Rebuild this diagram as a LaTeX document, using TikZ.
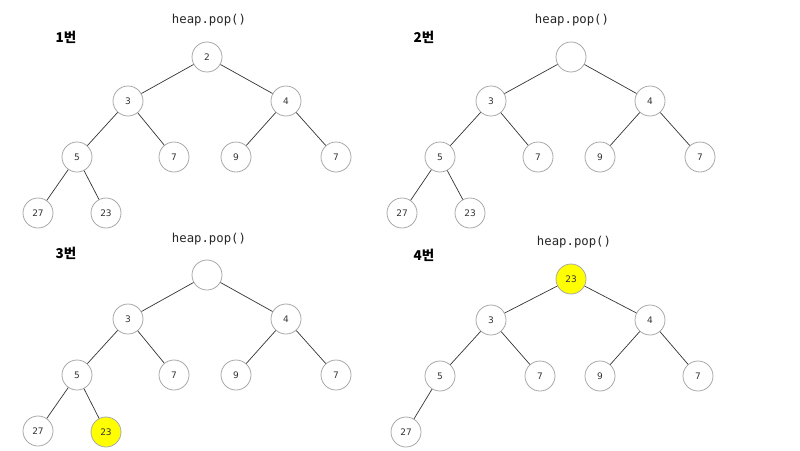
\documentclass[tikz,border=0pt]{standalone}
\usepackage{fontspec}
\setmainfont{DejaVu Sans}
\newfontfamily\krfont{Noto Sans CJK KR}
\newfontfamily\monofont{DejaVu Sans Mono}
\definecolor{ringgray}{HTML}{A8A8A8}
\definecolor{edgegray}{HTML}{333333}
\definecolor{hiyellow}{HTML}{FFFF00}
\begin{document}
\begin{tikzpicture}[x=1pt,y=-1pt,
  hnode/.style={circle,draw=ringgray,line width=0.8pt,minimum size=30pt,inner sep=0pt,font=\fontsize{9}{10}\selectfont,text=black!80,fill=white},
  hilite/.style={hnode,fill=hiyellow},
  edge/.style={draw=edgegray,line width=0.7pt},
  title/.style={font=\monofont\fontsize{12.3}{14}\selectfont,text=black!85},
  stepnum/.style={font=\krfont\bfseries\fontsize{13.5}{15}\selectfont,text=black}]
\useasboundingbox (0,0) rectangle (800,450);
% Panel 1
\node[title] (t1) at (209,20) {heap.pop()};
\node[stepnum] (s1) at (66,37) {1번};
\node[hnode] (a1) at (207,57) {2};
\node[hnode] (a2) at (128,101) {3};
\node[hnode] (a3) at (286,101) {4};
\node[hnode] (a4) at (77,157) {5};
\node[hnode] (a5) at (174,157) {7};
\node[hnode] (a6) at (236,157) {9};
\node[hnode] (a7) at (336,157) {7};
\node[hnode] (a8) at (38,213) {27};
\node[hnode] (a9) at (106,213) {23};
\draw[edge] (a1)--(a2) (a1)--(a3) (a2)--(a4) (a2)--(a5) (a3)--(a6) (a3)--(a7) (a4)--(a8) (a4)--(a9);
% Panel 2
\node[title] (t2) at (572,20) {heap.pop()};
\node[stepnum] (s2) at (424,37) {2번};
\node[hnode] (b1) at (571,57) {};
\node[hnode] (b2) at (491,101) {3};
\node[hnode] (b3) at (650,101) {4};
\node[hnode] (b4) at (440,157) {5};
\node[hnode] (b5) at (538,157) {7};
\node[hnode] (b6) at (600,157) {9};
\node[hnode] (b7) at (700,157) {7};
\node[hnode] (b8) at (402,213) {27};
\node[hnode] (b9) at (470,213) {23};
\draw[edge] (b1)--(b2) (b1)--(b3) (b2)--(b4) (b2)--(b5) (b3)--(b6) (b3)--(b7) (b4)--(b8) (b4)--(b9);
% Panel 3
\node[title] (t3) at (209,239) {heap.pop()};
\node[stepnum] (s3) at (66,253) {3번};
\node[hnode] (c1) at (207,275) {};
\node[hnode] (c2) at (128,319) {3};
\node[hnode] (c3) at (286,319) {4};
\node[hnode] (c4) at (77,375) {5};
\node[hnode] (c5) at (174,375) {7};
\node[hnode] (c6) at (236,375) {9};
\node[hnode] (c7) at (336,375) {7};
\node[hnode] (c8) at (38,431) {27};
\node[hilite] (c9) at (106,432) {23};
\draw[edge] (c1)--(c2) (c1)--(c3) (c2)--(c4) (c2)--(c5) (c3)--(c6) (c3)--(c7) (c4)--(c8) (c4)--(c9);
% Panel 4
\node[title] (t4) at (574,242) {heap.pop()};
\node[stepnum] (s4) at (424,255) {4번};
\node[hilite] (d1) at (571,279) {23};
\node[hnode] (d2) at (491,320) {3};
\node[hnode] (d3) at (650,320) {4};
\node[hnode] (d4) at (440,376) {5};
\node[hnode] (d5) at (540,376) {7};
\node[hnode] (d6) at (600,376) {9};
\node[hnode] (d7) at (698,376) {7};
\node[hnode] (d8) at (406,432) {27};
\draw[edge] (d1)--(d2) (d1)--(d3) (d2)--(d4) (d2)--(d5) (d3)--(d6) (d3)--(d7) (d4)--(d8);
\end{tikzpicture}
\end{document}
